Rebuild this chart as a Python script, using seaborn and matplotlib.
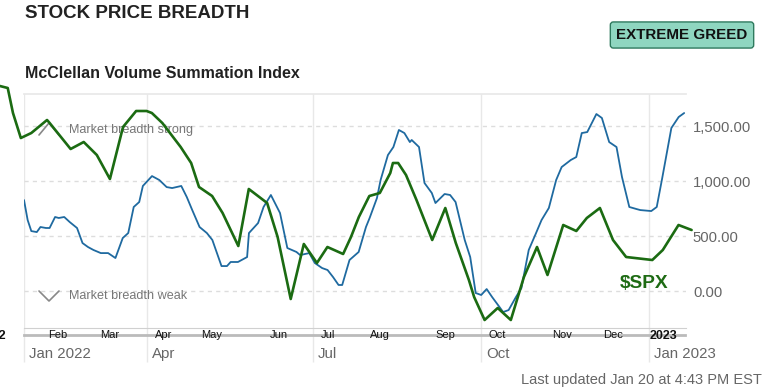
import pandas as pd
import matplotlib.pyplot as plt
import matplotlib.transforms as mtransforms
from matplotlib.lines import Line2D
from matplotlib.ticker import StrMethodFormatter
import seaborn as sns

# McClellan Volume Summation Index (blue)
mcv_dates = [
    "2022-01-24", "2022-01-26", "2022-01-28", "2022-01-31", "2022-02-02", "2022-02-05",
    "2022-02-07", "2022-02-10", "2022-02-12", "2022-02-15", "2022-02-18", "2022-02-22",
    "2022-02-25", "2022-02-28", "2022-03-03", "2022-03-07", "2022-03-11", "2022-03-15",
    "2022-03-19", "2022-03-22", "2022-03-25", "2022-03-28", "2022-03-30", "2022-04-04",
    "2022-04-08", "2022-04-12", "2022-04-15", "2022-04-20", "2022-04-23", "2022-04-26",
    "2022-04-30", "2022-05-04", "2022-05-07", "2022-05-12", "2022-05-15", "2022-05-17",
    "2022-05-21", "2022-05-26", "2022-05-27", "2022-06-01", "2022-06-04", "2022-06-08",
    "2022-06-13", "2022-06-17", "2022-06-22", "2022-06-24", "2022-06-29", "2022-07-02",
    "2022-07-06", "2022-07-09", "2022-07-12", "2022-07-15", "2022-07-17", "2022-07-21",
    "2022-07-26", "2022-07-30", "2022-08-01", "2022-08-05", "2022-08-07", "2022-08-11",
    "2022-08-14", "2022-08-17", "2022-08-20", "2022-08-23", "2022-08-24", "2022-08-28",
    "2022-08-31", "2022-09-04", "2022-09-06", "2022-09-11", "2022-09-14", "2022-09-17",
    "2022-09-22", "2022-09-25", "2022-09-28", "2022-10-01", "2022-10-04", "2022-10-07",
    "2022-10-11", "2022-10-13", "2022-10-16", "2022-10-20", "2022-10-23", "2022-10-27",
    "2022-10-31", "2022-11-03", "2022-11-07", "2022-11-11", "2022-11-14", "2022-11-19",
    "2022-11-22", "2022-11-25", "2022-11-28", "2022-12-03", "2022-12-06", "2022-12-10",
    "2022-12-14", "2022-12-17", "2022-12-21", "2022-12-25", "2022-12-27", "2023-01-02",
    "2023-01-05", "2023-01-08", "2023-01-13", "2023-01-17", "2023-01-20",
]
mcv_values = [
    827, 645, 545, 536, 582, 573,
    573, 673, 664, 673, 627, 573,
    436, 400, 373, 345, 345, 300,
    482, 527, 764, 809, 955, 1045,
    1009, 945, 936, 955, 855, 736,
    582, 527, 464, 227, 227, 264,
    264, 309, 527, 618, 764, 873,
    709, 391, 355, 327, 345, 255,
    209, 191, 127, 55, 55, 282,
    355, 582, 664, 845, 1009, 1236,
    1309, 1464, 1436, 1354, 1373, 1309,
    982, 891, 800, 882, 873, 809,
    464, 309, -18, -36, 18, -55,
    -145, -191, -173, -55, 27, 373,
    527, 645, 755, 1009, 1127, 1191,
    1218, 1436, 1445, 1609, 1573, 1354,
    1309, 1036, 764, 745, 736, 727,
    764, 1027, 1482, 1582, 1618,
]

# $SPX overlay (green), x = trading session index
spx_sessions = [
    3, 6, 8, 11, 15, 21, 22, 30, 35, 40, 45, 50, 55, 59, 61, 65, 72, 76, 79,
    84, 88, 94, 98, 103, 105, 109, 114, 119, 124, 128, 134, 137, 140, 144, 148,
    152, 153, 155, 158, 162, 168, 173, 177, 182, 184, 188, 193, 198, 203, 208,
    212, 218, 223, 227, 232, 237, 242, 252, 256, 262, 267,
]
spx_close = [
    4795, 4785, 4660, 4535, 4560, 4625, 4610, 4480, 4515, 4450, 4330, 4590, 4670, 4670, 4660, 4610, 4490, 4410, 4290,
    4245, 4160, 3995, 4280, 4230, 4210, 4040, 3730, 4005, 3910, 3990, 3955, 4040, 4140, 4245, 4260,
    4360, 4410, 4410, 4350, 4225, 4025, 4185, 4010, 3825, 3740, 3625, 3685, 3625, 3840, 3990,
    3850, 4100, 4070, 4135, 4185, 4025, 3940, 3925, 3975, 4100, 4075,
]

spx_tick_pos = [0, 25.2, 45.0, 65.6, 84.0, 109.5, 128.2, 148.1, 172.9, 192.7, 217.6, 237.0, 256.1]
spx_tick_labels = ["2022", "Feb", "Mar", "Apr", "May", "Jun", "Jul", "Aug", "Sep", "Oct", "Nov", "Dec", "2023"]

x_ticks = ["2022-01-24", "2022-04-01", "2022-07-01", "2022-10-01", "2023-01-01"]
x_tick_labels = ["Jan 2022", "Apr", "Jul", "Oct", "Jan 2023"]
y_ticks = [0, 500, 1000, 1500]

BLUE = "#1f6aa0"
GREEN = "#1b6b12"

sns.set_theme(style="white")
plt.rcParams["font.family"] = ["Liberation Sans", "DejaVu Sans"]

W, H = 779, 392
fig = plt.figure(figsize=(W / 100, H / 100), dpi=100)
fig.patch.set_facecolor("white")


def fx(px):
    return px / W


def fy(py):
    return 1 - py / H


# main chart
ax = fig.add_axes([fx(24), fy(328), (686 - 24) / W, (328 - 94) / H])
df = pd.DataFrame({"date": pd.to_datetime(mcv_dates), "value": mcv_values})
sns.lineplot(data=df, x="date", y="value", ax=ax, color=BLUE, linewidth=1.3)

ax.set_xlim(pd.Timestamp("2022-01-24"), pd.Timestamp("2023-01-21"))
ax.set_ylim(-336, 1791)
ax.set_xlabel("")
ax.set_ylabel("")
ax.set_facecolor("none")

ax.set_yticks(y_ticks)
ax.yaxis.set_major_formatter(StrMethodFormatter("{x:,.2f}"))
ax.yaxis.tick_right()
ax.tick_params(axis="y", length=0, pad=5, labelsize=10.7, labelcolor="#666666")
ax.yaxis.grid(True, color="#dddddd", linestyle=(0, (3, 3)), linewidth=1)

ax.set_xticks(pd.to_datetime(x_ticks))
ax.set_xticklabels(x_tick_labels)
ax.tick_params(axis="x", direction="out", length=24.5, width=1, color="#e8e8e8",
               pad=-10.8, labelsize=10.8, labelcolor="#666666", bottom=True)
ax.xaxis.grid(True, color="#e8e8e8", linestyle="-", linewidth=1)
offset = mtransforms.ScaledTranslation(0.05, 0, fig.dpi_scale_trans)
for lab in ax.get_xticklabels():
    lab.set_ha("left")
    lab.set_transform(lab.get_transform() + offset)

for side in ["left", "right"]:
    ax.spines[side].set_visible(False)
ax.spines["top"].set_color("#e8e8e8")
ax.spines["bottom"].set_color("#d0d0d0")
ax.spines["bottom"].set_linewidth(0.8)

# breadth hints, drawn under the overlay
ax.add_line(Line2D([fx(39), fx(49), fx(59)], [fy(135), fy(123), fy(135)],
                   transform=fig.transFigure, color="#888888", lw=1.2, clip_on=False))
ax.add_line(Line2D([fx(39), fx(49), fx(59)], [fy(291), fy(301), fy(291)],
                   transform=fig.transFigure, color="#888888", lw=1.2, clip_on=False))
ax.text(fx(69), fy(130), "Market breadth strong", transform=fig.transFigure,
        fontsize=9.1, color="#777777", va="center")
ax.text(fx(69), fy(296), "Market breadth weak", transform=fig.transFigure,
        fontsize=9.1, color="#777777", va="center")

# $SPX overlay
ax2 = fig.add_axes([fx(-30), fy(335), 730 / W, 335 / H])
ax2.patch.set_alpha(0)
sns.lineplot(x=spx_sessions, y=spx_close, ax=ax2, color=GREEN, linewidth=1.9)
ax2.set_xlim(-8.4, 270.2)
ax2.set_ylim(3550, 5225)
ax2.set_yticks([])
ax2.set_xticks(spx_tick_pos)
ax2.set_xticklabels(spx_tick_labels)
ax2.tick_params(axis="x", length=0, pad=-3.8, labelsize=8, labelcolor="#111111")
for lab in ax2.get_xticklabels():
    if lab.get_text() in ("2022", "2023"):
        lab.set_fontweight("bold")
        lab.set_fontsize(9)
for side in ["left", "right", "top"]:
    ax2.spines[side].set_visible(False)
ax2.spines["bottom"].set_color("#bbbbbb")
ax2.spines["bottom"].set_linewidth(2)
ax2.spines["bottom"].set_bounds(12.3, 264.5)
ax2.spines["bottom"].set_zorder(0)

fig.text(fx(620), fy(284), "$SPX", color="#1e6b14", fontsize=13.8,
         fontweight="bold", va="center")

# headings
fig.text(fx(25), fy(13), "STOCK PRICE BREADTH", fontsize=13.5, fontweight="bold",
         color="#222222", va="center")
fig.text(fx(25), fy(73), "McClellan Volume Summation Index", fontsize=11.5,
         fontweight="bold", color="#222222", va="center")
fig.text(fx(682), fy(35), "EXTREME GREED", fontsize=10.9, fontweight="bold",
         color="#111111", ha="center", va="center",
         bbox=dict(boxstyle="round,pad=0.4,rounding_size=0.2", fc="#8fd6c0",
                   ec="#2f7a5e", lw=1))
fig.text(fx(762), fy(380), "Last updated Jan 20 at 4:43 PM EST", fontsize=10.5,
         color="#666666", ha="right", va="center")

fig.savefig("out.png", dpi=100)
